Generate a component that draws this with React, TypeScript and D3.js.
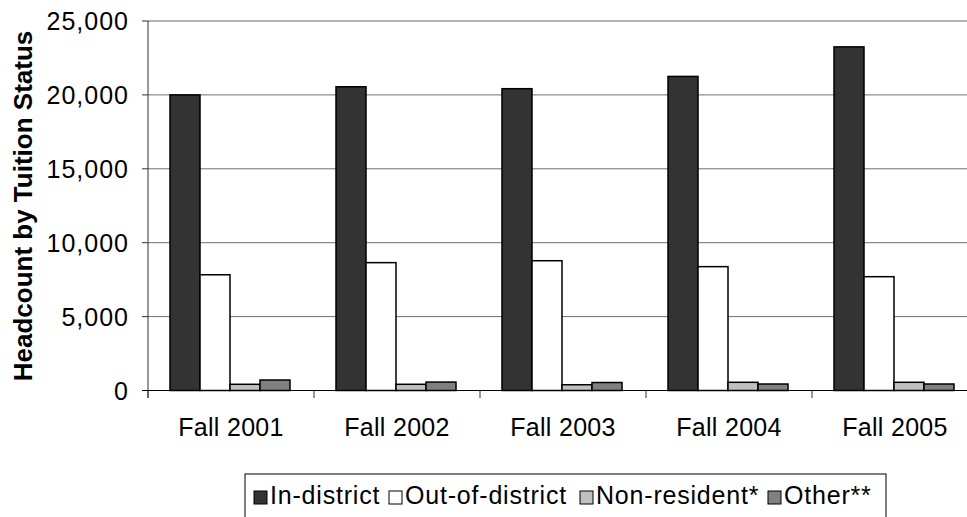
import React from "react";
import * as d3 from "d3";

const categories = ["Fall 2001", "Fall 2002", "Fall 2003", "Fall 2004", "Fall 2005"];
const seriesNames = ["In-district", "Out-of-district", "Non-resident*", "Other**"];
const inDistrict = [20000, 20550, 20420, 21250, 23250];
const outOfDistrict = [7830, 8650, 8780, 8380, 7700];
const nonResident = [420, 420, 390, 555, 555];
const other = [710, 570, 540, 440, 440];
const yTicks = [0, 5000, 10000, 15000, 20000, 25000];
const seriesValues = [inDistrict, outOfDistrict, nonResident, other];
const colors = ["#333333", "#ffffff", "#c0c0c0", "#808080"];

const W = 967;
const H = 517;
const FONT = "'Liberation Sans', Arial, sans-serif";

export default function App() {
  const x0 = d3.scaleBand<string>().domain(categories).range([148, 978]).padding(0);
  const x1 = d3.scaleBand<string>().domain(seriesNames).range([22, 142]).padding(0);
  const y = d3.scaleLinear().domain([0, 25000]).range([390.5, 21]);
  const fmt = d3.format(",");

  const legendSquares = [254, 389, 580, 768];

  return (
    <svg
      width={W}
      height={H}
      style={{ position: "absolute", left: 0, top: 0, background: "#fff" }}
      fontFamily={FONT}
    >
      <rect x={0} y={0} width={W} height={H} fill="#fff" />
      {/* gridlines */}
      {yTicks.filter((t) => t > 0).map((t) => (
        <line
          key={t}
          x1={148}
          x2={978}
          y1={y(t)}
          y2={y(t)}
          stroke={t === 25000 ? "#999" : "#707070"}
          strokeWidth={t === 25000 ? 1.6 : 1}
        />
      ))}
      {/* bars */}
      {categories.map((c, ci) => (
        <g key={c} transform={`translate(${x0(c)},0)`}>
          {seriesNames.map((s, si) => {
            const v = seriesValues[si][ci];
            return (
              <rect
                key={s}
                x={x1(s)!}
                y={y(v)}
                width={x1.bandwidth()}
                height={y(0) - y(v)}
                fill={colors[si]}
                stroke="#000"
                strokeWidth={1.5}
              />
            );
          })}
        </g>
      ))}
      {/* y axis */}
      <line x1={148} x2={148} y1={21} y2={398} stroke="#333" strokeWidth={1} />
      {yTicks.map((t) => (
        <g key={t}>
          <line x1={142} x2={148} y1={y(t)} y2={y(t)} stroke="#333" />
          <text
            x={129}
            y={y(t)}
            textAnchor="end"
            dominantBaseline="central"
            fontSize={25}
            letterSpacing={1}
            fill="#000"
          >
            {fmt(t)}
          </text>
        </g>
      ))}
      {/* x axis */}
      <line x1={142} x2={978} y1={y(0)} y2={y(0)} stroke="#000" strokeWidth={1.2} />
      {categories.map((c) => (
        <line
          key={"t" + c}
          x1={x0(c)!}
          x2={x0(c)!}
          y1={y(0)}
          y2={398}
          stroke="#333"
        />
      ))}
      {categories.map((c) => (
        <text
          key={"l" + c}
          x={x0(c)! + x0.bandwidth() / 2}
          y={436}
          textAnchor="middle"
          fontSize={25}
          letterSpacing={0.3}
          fill="#000"
        >
          {c}
        </text>
      ))}
      {/* y label */}
      <text
        transform="translate(32,206) rotate(-90)"
        textAnchor="middle"
        fontSize={26}
        fontWeight="bold"
        fill="#000"
      >
        Headcount by Tuition Status
      </text>
      {/* legend */}
      <rect x={245} y={474} width={641} height={60} fill="#fff" stroke="#000" strokeWidth={1} />
      {seriesNames.map((s, i) => (
        <g key={"lg" + s}>
          <rect
            x={legendSquares[i]}
            y={491}
            width={13}
            height={13}
            fill={colors[i]}
            stroke="#000"
            strokeWidth={1}
          />
          <text
            x={legendSquares[i] + 16}
            y={504}
            fontSize={25}
            letterSpacing={0.8}
            fill="#000"
          >
            {s}
          </text>
        </g>
      ))}
    </svg>
  );
}
